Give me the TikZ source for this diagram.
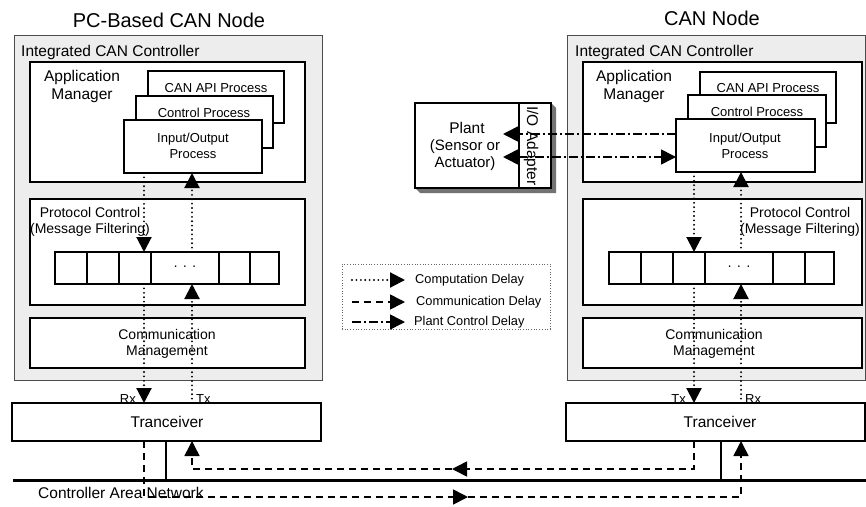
\documentclass[tikz,border=0pt]{standalone}
\usepackage{fontspec}
\setmainfont{Liberation Sans}
\usetikzlibrary{arrows.meta,fit}

\tikzset{
  ctlbox/.style={draw=black!70, fill=black!7, line width=0.9pt, inner sep=0pt, outer sep=0pt},
  wbox/.style={draw=black, fill=white, line width=1.1pt, inner sep=0pt, outer sep=0pt},
  title/.style={font=\fontsize{20}{22}\selectfont, inner sep=0pt},
  lbl/.style={font=\fontsize{15.5}{17}\selectfont, inner sep=0pt},
  appl/.style={font=\fontsize{15.5}{18}\selectfont, inner sep=0pt, align=center},
  sm/.style={font=\fontsize{13}{15.5}\selectfont, inner sep=0pt, align=center},
  md/.style={font=\fontsize{14}{15.5}\selectfont, inner sep=0pt, align=center},
  leg/.style={font=\fontsize{12.8}{14}\selectfont, inner sep=0pt, anchor=west},
  >={Triangle[width=15pt,length=15pt]},
  comp/.style={line width=2.1pt, dash pattern=on 0pt off 4.4pt, line cap=round},
  commd/.style={line width=1.6pt, dash pattern=on 7pt off 5pt},
  plantd/.style={line width=1.6pt, dash pattern=on 9pt off 3pt on 2pt off 3pt},
  bus/.style={line width=3pt},
}

\begin{document}
\begin{tikzpicture}[x=1pt,y=-1pt]
\useasboundingbox (0,0) rectangle (866,506);

% ---------------- PC-based node ----------------
\node[title] (L-title) at (169,20) {PC-Based CAN Node};
\node[ctlbox, fit={(14,35)(322,380)}] (L-ctl) {};
\node[lbl, anchor=west] (L-ctl-t) at (21,52) {Integrated CAN Controller};

\node[wbox, fit={(30,62)(305,182)}] (L-app) {};
\node[appl] (L-app-t) at (82,86) {Application\\Manager};
\node[wbox, fit={(148,71)(284,123)}] (L-api) {};
\node[wbox, fit={(136,96)(273,148)}] (L-ctrl) {};
\node[wbox, fit={(124,120)(262,173)}] (L-io) {};
\node[sm] (L-api-t) at (216,88) {CAN API Process};
\node[sm] (L-ctrl-t) at (204,113) {Control Process};
\node[sm] (L-io-t) at (193,146) {Input/Output\\Process};

\node[wbox, fit={(30,199)(305,305)}] (L-pc) {};
\node[md] (L-pc-t) at (90,222) {Protocol Control\\(Message Filtering)};
\node[wbox, fit={(55,252)(87,284)}]  (L-c1) {};
\node[wbox, fit={(87,252)(119,284)}] (L-c2) {};
\node[wbox, fit={(119,252)(151,284)}] (L-c3) {};
\node[wbox, fit={(151,252)(219,284)}] (L-c4) {};
\node[wbox, fit={(219,252)(250,284)}] (L-c5) {};
\node[wbox, fit={(250,252)(279,284)}] (L-c6) {};
\node[md] at (L-c4) {·\,\,·\,\,·};

\node[wbox, fit={(30,318)(305,368)}] (L-cm) {};
\node[md] (L-cm-t) at (167,344) {Communication\\Management};

\node[wbox, fit={(12,403)(321,441)}] (L-tr) {};
\node[lbl] (L-tr-t) at (167,422) {Tranceiver};

% ---------------- CAN node ----------------
\node[title] (R-title) at (712,18) {CAN Node};
\node[ctlbox, fit={(567,35)(865,380)}] (R-ctl) {};
\node[lbl, anchor=west] (R-ctl-t) at (575,52) {Integrated CAN Controller};

\node[wbox, fit={(583,62)(862,182)}] (R-app) {};
\node[appl] (R-app-t) at (634,86) {Application\\Manager};
\node[wbox, fit={(700,72)(836,123)}] (R-api) {};
\node[wbox, fit={(688,95)(826,147)}] (R-ctrl) {};
\node[wbox, fit={(676,119)(815,172)}] (R-io) {};
\node[sm] (R-api-t) at (768,88) {CAN API Process};
\node[sm] (R-ctrl-t) at (757,112) {Control Process};
\node[sm] (R-io-t) at (745,146) {Input/Output\\Process};

\node[wbox, fit={(583,199)(862,305)}] (R-pc) {};
\node[md] (R-pc-t) at (800,222) {Protocol Control\\(Message Filtering)};
\node[wbox, fit={(609,252)(641,284)}] (R-c1) {};
\node[wbox, fit={(641,252)(673,284)}] (R-c2) {};
\node[wbox, fit={(673,252)(705,284)}] (R-c3) {};
\node[wbox, fit={(705,252)(773,284)}] (R-c4) {};
\node[wbox, fit={(773,252)(805,284)}] (R-c5) {};
\node[wbox, fit={(805,252)(834,284)}] (R-c6) {};
\node[md] at (R-c4) {·\,\,·\,\,·};

\node[wbox, fit={(583,318)(862,368)}] (R-cm) {};
\node[md] (R-cm-t) at (714,344) {Communication\\Management};

\node[wbox, fit={(566,403)(865,441)}] (R-tr) {};
\node[lbl] (R-tr-t) at (720,422) {Tranceiver};

% ---------------- plant with its I/O adapter ----------------
\fill[black!55] (519,103) -- (551,103) -- (556,108) -- (556,193) -- (420,193) -- (415,188) -- cycle;
\node[wbox, fit={(415,103)(519,188)}] (plant) {};
\node[wbox, fit={(519,103)(551,188)}] (adapter) {};
\node[lbl] (plant-t) at (467,128) {Plant};
\node[lbl, align=center, font=\fontsize{15}{17}\selectfont] (plant-t2) at (465,155) {(Sensor or\\Actuator)};
\node[lbl, rotate=-90] (adapter-t) at (531,146) {I/O Adapter};
\coordinate (plant-a) at (503,134);
\coordinate (plant-b) at (503,157);

% ---------------- legend ----------------
\node[draw=black!60, dotted, line width=0.7pt, fit={(342,264)(550,329)}, inner sep=0pt] (legend) {};
\coordinate (lg1a) at (352,280); \coordinate (lg1b) at (405,280);
\coordinate (lg2a) at (352,302); \coordinate (lg2b) at (405,302);
\coordinate (lg3a) at (352,322); \coordinate (lg3b) at (405,322);
\draw[comp,->] (lg1a) -- (lg1b);
\draw[commd,->] (lg2a) -- (lg2b);
\draw[plantd,->] (lg3a) -- (lg3b);
\node[leg] at (415,280) {Computation Delay};
\node[leg] at (416,302) {Communication Delay};
\node[leg] at (414,322) {Plant Control Delay};

% ---------------- computation paths ----------------
\coordinate (L-rx) at (144,0); \coordinate (L-tx) at (192,0);
\coordinate (R-tx) at (694,0); \coordinate (R-rx) at (741,0);

\draw[comp,->] (L-io.south -| L-rx) -- (L-c3.north -| L-rx);
\draw[comp,->] (L-c3.south -| L-rx) -- (L-tr.north -| L-rx);
\draw[comp,->] (L-tr.north -| L-tx) -- (L-c4.south -| L-tx);
\draw[comp,->] (L-c4.north -| L-tx) -- (L-io.south -| L-tx);

\draw[comp,->] (R-io.south -| R-tx) -- (R-c3.north -| R-tx);
\draw[comp,->] (R-c3.south -| R-tx) -- (R-tr.north -| R-tx);
\draw[comp,->] (R-tr.north -| R-rx) -- (R-c4.south -| R-rx);
\draw[comp,->] (R-c4.north -| R-rx) -- (R-io.south -| R-rx);

\node[sm, anchor=south east] at ([xshift=-8pt,yshift=-1pt]L-tr.north -| L-rx) {Rx};
\node[sm, anchor=south west] at ([xshift=4pt,yshift=-1pt]L-tr.north -| L-tx) {Tx};
\node[sm, anchor=south east] at ([xshift=-8pt,yshift=-1pt]R-tr.north -| R-tx) {Tx};
\node[sm, anchor=south west] at ([xshift=4pt,yshift=-1pt]R-tr.north -| R-rx) {Rx};

% ---------------- bus ----------------
\coordinate (bus-w) at (13,480); \coordinate (bus-e) at (866,480);
\draw[bus] (bus-w) -- (bus-e);
\draw[line width=2.6pt] (L-tr.south -| 166,0) -- (bus-w -| 166,0);
\draw[line width=2.6pt] (R-tr.south -| 721,0) -- (bus-w -| 721,0);
\node[lbl, anchor=west] (can-t) at (38,493) {Controller Area Network};

% ---------------- communication paths ----------------
\coordinate (lo-w) at (144,497); \coordinate (lo-m) at (468,497); \coordinate (lo-e) at (741,497);
\coordinate (hi-e) at (694,469); \coordinate (hi-m) at (452,469); \coordinate (hi-w) at (192,469);
\draw[commd,->] (L-tr.south -| lo-w) -- (lo-w) -- (lo-m);
\draw[commd,->] (lo-m) -- (lo-e) -- (R-tr.south -| lo-e);
\draw[commd,->] (R-tr.south -| hi-e) -- (hi-e) -- (hi-m);
\draw[commd,->] (hi-m) -- (hi-w) -- (L-tr.south -| hi-w);

% ---------------- plant control paths ----------------
\draw[plantd,->] (R-io.west |- plant-a) -- (plant-a);
\draw[plantd,<->] (plant-b) -- (R-io.west |- plant-b);
\end{tikzpicture}
\end{document}
